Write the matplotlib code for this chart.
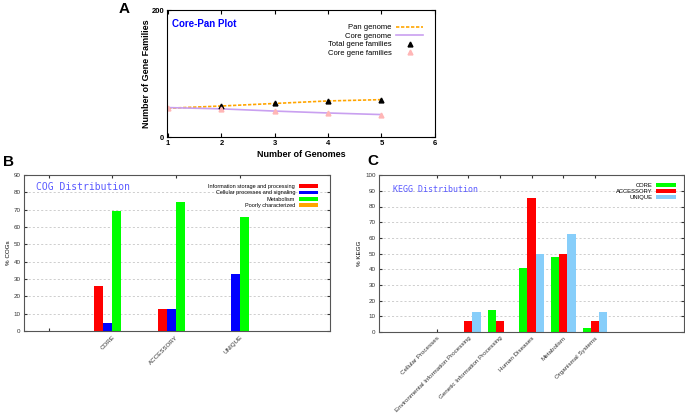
import numpy as np
import matplotlib.pyplot as plt

plt.rcParams['font.family'] = ['Liberation Sans', 'DejaVu Sans']

# ---- data: panel A (core-pan plot)
genomes = [1, 2, 3, 4, 5]
pan_genome = [45.5, 49, 53, 57, 59]
core_genome = [46.5, 44.5, 41, 38, 35.5]

# ---- data: panel B (COG distribution, %)
cog_groups = ['CORE', 'ACCESSORY', 'UNIQUE']
cog_info = [26.0, 12.5, 0.0]
cog_cell = [4.4, 12.5, 33.0]
cog_metab = [69.4, 74.4, 65.8]
cog_poor = [0.0, 0.0, 0.0]

# ---- data: panel C (KEGG distribution, %)
kegg_cats = ['Cellular Processes', 'Environmental Information Processing',
             'Genetic Information Processing', 'Human Diseases',
             'Metabolism', 'Organismal Systems']
kegg_core = [0.0, 0.0, 14.0, 41.0, 47.7, 2.3]
kegg_acc = [0.0, 7.1, 7.1, 85.7, 50.0, 7.1]
kegg_uniq = [0.0, 12.5, 0.0, 50.0, 62.5, 12.5]

fig = plt.figure(figsize=(6.85, 4.13), dpi=100)

# ================= Panel A
axA = fig.add_axes([0.2438, 0.668, 0.391, 0.3075])
axA.plot(genomes, pan_genome, color='#ffa500', ls=(0, (2, 1)), lw=1.2, label='Pan genome')
axA.plot(genomes, core_genome, color='#c9a0f0', lw=1.2, label='Core genome')
axA.plot(genomes[1:], pan_genome[1:], ls='none', marker='^', ms=3.5, color='black',
         label='Total gene families')
axA.plot(genomes, core_genome, ls='none', marker='^', ms=3.5, color='#ffb6b6',
         label='Core gene families')
axA.set_xlim(0.98, 6)
axA.set_ylim(0, 200)
axA.set_yticks([0, 200])
axA.set_xticks([1, 2, 3, 4, 5, 6])
axA.tick_params(direction='in', top=True, right=True, labelsize=5.5, length=3, pad=2)
for t in axA.get_xticklabels() + axA.get_yticklabels():
    t.set_fontweight('bold')
axA.set_xlabel('Number of Genomes', fontsize=6.5, fontweight='bold', labelpad=2)
axA.set_ylabel('Number of Gene Families', fontsize=6.5, fontweight='bold', labelpad=0)
axA.text(0.02, 0.93, 'Core-Pan Plot', transform=axA.transAxes, color='#0000ff',
         fontsize=7, fontweight='bold', va='top')
axA.legend(loc='upper right', bbox_to_anchor=(0.97, 0.92), markerfirst=False, frameon=False,
           fontsize=5.5, handlelength=3.5, labelspacing=0.15, borderpad=0, handletextpad=0.6)
for s in axA.spines.values():
    s.set_linewidth(0.8)

# ================= Panel B
axB = fig.add_axes([0.035, 0.1985, 0.4467, 0.3777])
w = 0.142
xb = np.arange(1, len(cog_groups) + 1)
axB.bar(xb - 1.5 * w, cog_info, w, color='#ff0000', label='Information storage and processing')
axB.bar(xb - 0.5 * w, cog_cell, w, color='#0000ff', label='Cellular processes and signaling')
axB.bar(xb + 0.5 * w, cog_metab, w, color='#00ff00', label='Metabolism')
axB.bar(xb + 1.5 * w, cog_poor, w, color='#ffa500', label='Poorly characterized')
axB.set_xlim(-0.39, 4.42)
axB.set_ylim(0, 90)
axB.set_yticks(range(0, 91, 10))
axB.set_xticks(np.arange(0, len(cog_groups) + 1))
axB.set_xticklabels([''] + cog_groups, rotation=45, ha='right', rotation_mode='anchor')
axB.tick_params(direction='in', top=True, right=True, labelsize=4.5, length=2.5, pad=2.5,
                colors='#333333')
axB.yaxis.grid(True, ls=(0, (3, 3)), color='#bbbbbb', lw=0.5)
axB.set_axisbelow(True)
axB.set_ylabel('% COGs', fontsize=4.5, labelpad=2)
axB.text(0.04, 0.955, 'COG Distribution', transform=axB.transAxes, color='#5a5aff',
         fontsize=7, family='DejaVu Sans Mono', va='top')
axB.legend(loc='upper right', bbox_to_anchor=(0.97, 0.96), markerfirst=False, frameon=False,
           fontsize=4, handlelength=3.5, handleheight=0.6, labelspacing=0.25, borderpad=0,
           handletextpad=0.6)
for s in axB.spines.values():
    s.set_color('#555555')
    s.set_linewidth(0.8)

# ================= Panel C
axC = fig.add_axes([0.5533, 0.196, 0.445, 0.380])
wc = 0.26
xc = np.arange(len(kegg_cats))
axC.bar(xc - wc, kegg_core, wc, color='#00ff00', label='CORE')
axC.bar(xc, kegg_acc, wc, color='#ff0000', label='ACCESSORY')
axC.bar(xc + wc, kegg_uniq, wc, color='#87cefa', label='UNIQUE')
axC.set_xlim(-1.82, 7.81)
axC.set_ylim(0, 100)
axC.set_yticks(range(0, 101, 10))
axC.set_xticks(xc)
axC.set_xticklabels(kegg_cats, rotation=45, ha='right', rotation_mode='anchor')
axC.tick_params(direction='in', top=True, right=True, labelsize=4.5, length=2.5, pad=2.5,
                colors='#333333')
axC.yaxis.grid(True, ls=(0, (3, 3)), color='#bbbbbb', lw=0.5)
axC.set_axisbelow(True)
axC.set_ylabel('% KEGG', fontsize=4.5, labelpad=2)
axC.text(0.046, 0.94, 'KEGG Distribution', transform=axC.transAxes, color='#5a5aff',
         fontsize=6, family='DejaVu Sans Mono', va='top')
axC.legend(loc='upper right', bbox_to_anchor=(0.985, 0.97), markerfirst=False, frameon=False,
           fontsize=4.2, handlelength=3.5, handleheight=0.6, labelspacing=0.2, borderpad=0,
           handletextpad=0.6)
for s in axC.spines.values():
    s.set_color('#555555')
    s.set_linewidth(0.8)

# ---- panel letters
fig.text(124 / 685, 1 - 9 / 413, 'A', fontsize=11, fontweight='bold', ha='center', va='center')
fig.text(9 / 685, 1 - 162 / 413, 'B', fontsize=11, fontweight='bold', ha='center', va='center')
fig.text(373 / 685, 1 - 161 / 413, 'C', fontsize=11, fontweight='bold', ha='center', va='center')

fig.savefig('out.png', dpi=100)
